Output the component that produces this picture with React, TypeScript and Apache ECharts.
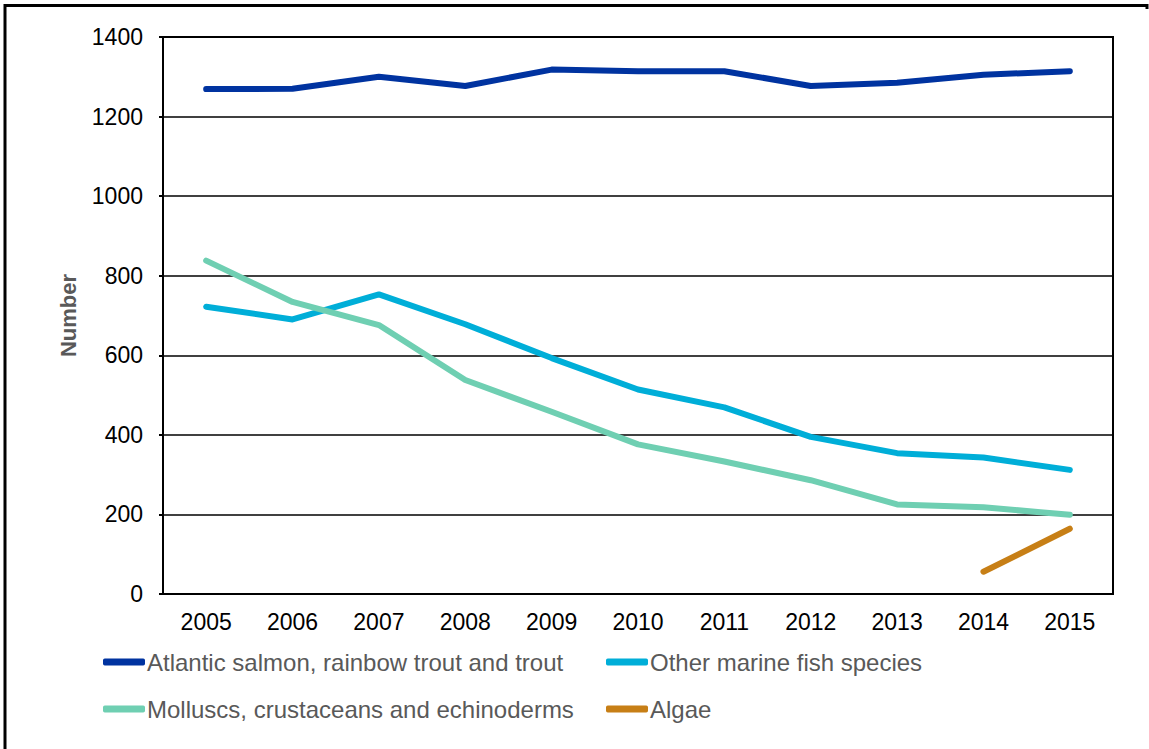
import React, { useEffect, useRef } from "react";
import * as echarts from "echarts";

const years = ["2005", "2006", "2007", "2008", "2009", "2010", "2011", "2012", "2013", "2014", "2015"];
const salmon = [1269, 1270, 1300, 1277, 1318, 1314, 1314, 1277, 1285, 1305, 1314];
const otherMarine = [722, 690, 753, 678, 593, 514, 469, 395, 354, 343, 312];
const molluscs = [838, 734, 676, 538, 458, 376, 333, 286, 225, 218, 199];
const algae = [null, null, null, null, null, null, null, null, null, 56, 164];

const seriesNames = [
  "Atlantic salmon, rainbow trout and trout",
  "Other marine fish species",
  "Molluscs, crustaceans and echinoderms",
  "Algae",
];
const colors = ["#0033A0", "#00AED8", "#6FCFB2", "#C77F16"];

const FONT = "Liberation Sans, Arial, sans-serif";

export default function App() {
  const ref = useRef<HTMLDivElement>(null);
  useEffect(() => {
    if (!ref.current) return;
    const chart = echarts.init(ref.current, null, { renderer: "svg" });
    const data = [salmon, otherMarine, molluscs, algae];
    const legendPos = [
      { left: 98, top: 645 },
      { left: 601, top: 645 },
      { left: 98, top: 692 },
      { left: 601, top: 692 },
    ];
    chart.setOption({
      animation: false,
      backgroundColor: "#ffffff",
      textStyle: { fontFamily: FONT },
      grid: {
        left: 163,
        right: 36,
        top: 37,
        bottom: 155,
        show: true,
        borderColor: "#000",
        borderWidth: 2,
        backgroundColor: "transparent",
      },
      legend: legendPos.map((p, i) => ({
        data: [seriesNames[i]],
        left: p.left,
        top: p.top,
        icon: "roundRect",
        itemWidth: 42,
        itemHeight: 7,
        itemGap: 0,
        textStyle: { color: "#595959", fontSize: 24, fontFamily: FONT, padding: [0, 0, 0, -3] },
      })),
      xAxis: {
        type: "category",
        data: years,
        boundaryGap: true,
        axisLine: { lineStyle: { color: "#000", width: 2 } },
        axisTick: { show: false },
        axisLabel: { color: "#000", fontSize: 23, margin: 16, fontFamily: FONT },
      },
      yAxis: {
        type: "value",
        min: 0,
        max: 1400,
        interval: 200,
        name: "Number",
        nameLocation: "middle",
        nameGap: 84,
        nameTextStyle: { color: "#595959", fontSize: 22, fontWeight: "bold", fontFamily: FONT },
        axisLine: { show: true, lineStyle: { color: "#000", width: 2 } },
        axisTick: { show: true, length: 4, lineStyle: { color: "#000", width: 2 } },
        axisLabel: {
          color: "#000",
          fontSize: 23,
          margin: 20,
          fontFamily: FONT,
          formatter: (v: number) => String(v),
        },
        splitLine: { lineStyle: { color: "#000", width: 1.5 } },
      },
      series: data.map((d, i) => ({
        name: seriesNames[i],
        type: "line",
        data: d,
        symbol: "none",
        connectNulls: false,
        lineStyle: { color: colors[i], width: 6, cap: "round", join: "round" },
        itemStyle: { color: colors[i] },
      })),
      graphic: [
        {
          type: "polyline",
          shape: { points: [[5, 800], [5, 5.5], [1147, 5.5], [1147, 9]] },
          style: { fill: "none", stroke: "#000", lineWidth: 3 },
          silent: true,
        },
      ],
    });
    return () => chart.dispose();
  }, []);
  return (
    <div
      ref={ref}
      style={{ position: "fixed", left: 0, top: 0, width: 1149, height: 749, background: "#fff" }}
    />
  );
}
